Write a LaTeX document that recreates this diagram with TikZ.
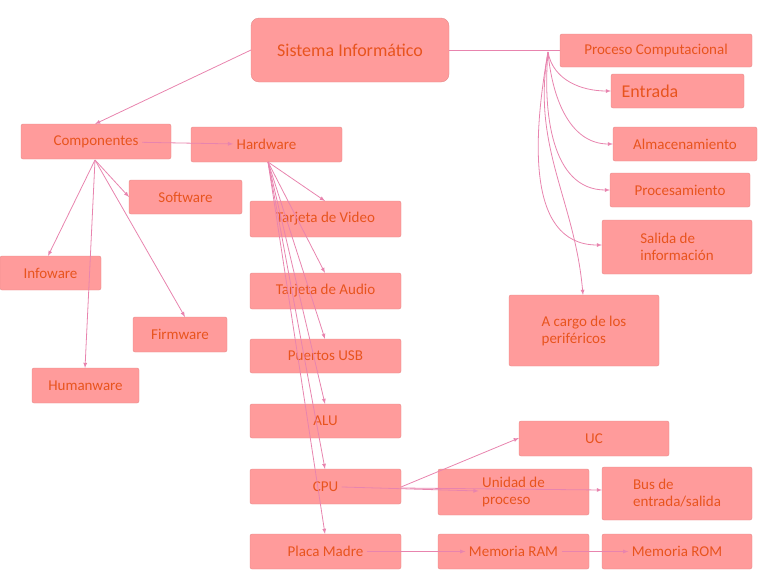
\documentclass[tikz,border=0pt]{standalone}
\usepackage{fontspec}
\setmainfont{Carlito}
\usetikzlibrary{positioning}
\definecolor{boxfill}{HTML}{FF9B9B}
\definecolor{boxtext}{HTML}{E8541E}
\definecolor{linkpink}{HTML}{E884AE}
\tikzset{
  box/.style={draw=boxfill!90!black, fill=boxfill, rounded corners=2pt, text=boxtext,
    font=\fontsize{15}{17}\selectfont, inner sep=4pt},
  link/.style={draw=linkpink, line width=0.8pt},
  arr/.style={link, -latex}
}
% box from corner (x1,y1) to (x2,y2) in pixels
\newcommand{\bx}[7][]{%
  \path[box,#1] (#3,#4) rectangle (#5,#6);
  \node[text=boxtext, font=\fontsize{15}{17}\selectfont, align=left, anchor=center] (#2)
    at ({(#3+#5)/2},{(#4+#6)/2}) {#7};
  \coordinate (#2-nw) at (#3,#4);
  \coordinate (#2-se) at (#5,#6);
}
\begin{document}
\begin{tikzpicture}[x=1pt,y=-1pt]
  \useasboundingbox (0,0) rectangle (768,576);
  %% boxes
  \bx[rounded corners=8pt]{sis}{251}{18}{449}{82}{\fontsize{18}{20}\selectfont Sistema Informático}
  \bx{proc}{560}{34}{752}{67}{Proceso Computacional}
  \bx{ent}{611}{74}{744}{108}{\fontsize{18}{20}\selectfont Entrada\hspace{55pt}}
  \bx{alm}{613}{127}{757}{161}{Almacenamiento}
  \bx{pro}{610}{173}{750}{207}{Procesamiento}
  \bx{sal}{602}{220}{752}{274}{Salida de\\información\hspace{30pt}}
  \bx{per}{509}{295}{659}{366}{A cargo de los\\periféricos\hspace{30pt}}
  \bx{com}{21}{124}{171}{159}{Componentes}
  \bx{har}{191}{127}{342}{162}{Hardware}
  \bx{sof}{129}{180}{242}{214}{Software}
  \bx{inf}{0}{256}{101}{290}{Infoware}
  \bx{fir}{133}{317}{227}{352}{Firmware}
  \bx{hum}{32}{368}{139}{403}{Humanware}
  \bx{vid}{250}{201}{401}{237}{Tarjeta de Video}
  \bx{aud}{250}{273}{401}{309}{Tarjeta de Audio}
  \bx{usb}{250}{339}{401}{373}{Puertos USB}
  \bx{alu}{250}{404}{401}{438}{ALU}
  \bx{cpu}{250}{469}{401}{504}{CPU}
  \bx{pla}{250}{534}{401}{569}{Placa Madre}
  \bx{uc}{519}{421}{669}{456}{UC}
  \bx{uni}{438}{469}{589}{515}{Unidad de\\proceso\hspace{30pt}}
  \bx{bus}{602}{467}{752}{520}{Bus de\\entrada/salida}
  \bx{ram}{438}{534}{589}{569}{Memoria RAM}
  \bx{rom}{602}{534}{752}{569}{Memoria ROM}
  %% connectors
  \coordinate (sisL) at (251,50);
  \coordinate (sisR) at (449,50);
  \coordinate (comB) at (95,160);
  \coordinate (harB) at (268,162);
  \coordinate (procB) at (548,52);
  \draw[arr] (sisL) -- (95,124);
  \draw[link] (sisR) -- (560,50);
  \draw[arr] (com) -- (har);
  \draw[arr] (comB) -- (129,197);
  \draw[arr] (comB) -- (48,256);
  \draw[arr] (comB) -- (185,317);
  \draw[arr] (comB) -- (85,368);
  \foreach \t in {201,273,339,404,469,534}
    \draw[arr] (harB) -- (325,\t);
  \draw[arr] (401,487) -- (519,438);
  \draw[arr] (cpu) -- (uni);
  \draw[arr] (401,488) -- (602,490);
  \draw[arr] (pla) -- (ram);
  \draw[arr] (ram) -- (rom);
  \draw[arr] (procB) to[out=-80,in=180] (ent-nw |- ent);
  \draw[arr] (procB) to[out=-85,in=180] (alm-nw |- alm);
  \draw[arr] (procB) to[out=-95,in=180] (pro-nw |- pro);
  \draw[arr] (procB) to[out=-100,in=180] (602,245);
  \draw[arr] (procB) to[out=-100,in=95] (583,295);
\end{tikzpicture}
\end{document}
